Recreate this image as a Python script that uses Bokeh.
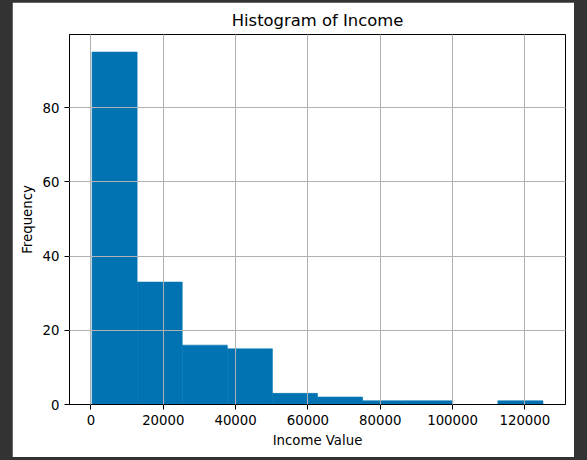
from bokeh.plotting import figure
from bokeh.models import Range1d, FixedTicker, ColumnDataSource, Column
from bokeh.embed import file_html
from bokeh.resources import INLINE

# Histogram data (bin edges and counts)
bin_edges = [300, 12770, 25240, 37710, 50180, 62650, 75120, 87590, 100060, 112530, 125000]
counts = [95, 33, 16, 15, 3, 2, 1, 1, 0, 1]
x_ticks = [0, 20000, 40000, 60000, 80000, 100000, 120000]
y_ticks = [0, 20, 40, 60, 80]

src = ColumnDataSource(dict(left=bin_edges[:-1], right=bin_edges[1:],
                            top=counts, bottom=[0] * len(counts)))

span = bin_edges[-1] - bin_edges[0]
xr = Range1d(bin_edges[0] - 0.05 * span, bin_edges[-1] + 0.05 * span)
yr = Range1d(0, max(counts) * 1.05)

p = figure(width=562, height=455, x_range=xr, y_range=yr,
           output_backend="svg", toolbar_location=None,
           title="Histogram of Income")
p.min_border_left = 57
p.min_border_right = 9
p.min_border_top = 32
p.min_border_bottom = 53

BAR = "#0173b2"
p.quad(left="left", right="right", top="top", bottom="bottom", source=src,
       fill_color=BAR, line_color=BAR, line_width=0.6)

FONT = "DejaVu Sans"
p.title.align = "center"
p.title.text_font = FONT
p.title.text_font_size = "16.4px"
p.title.text_font_style = "normal"
p.title.text_color = "black"

p.outline_line_color = "black"
p.outline_line_width = 1
p.outline_line_alpha = 1

for ax in (p.xaxis[0], p.yaxis[0]):
    ax.major_label_text_font = FONT
    ax.major_label_text_font_size = "13.3px"
    ax.major_label_text_color = "black"
    ax.axis_label_text_font = FONT
    ax.axis_label_text_font_size = "13.3px"
    ax.axis_label_text_font_style = "normal"
    ax.axis_label_text_color = "black"
    ax.axis_line_color = "black"
    ax.major_tick_line_color = "black"
    ax.major_tick_out = 5
    ax.major_tick_in = 0
    ax.minor_tick_line_color = None
    ax.major_label_standoff = 5

p.xaxis[0].ticker = FixedTicker(ticks=x_ticks)
p.yaxis[0].ticker = FixedTicker(ticks=y_ticks)
p.xaxis[0].axis_label = "Income Value"
p.yaxis[0].axis_label = "Frequency"
p.xaxis[0].axis_label_standoff = 5
p.yaxis[0].axis_label_standoff = 5
p.xaxis[0].formatter.use_scientific = False
p.yaxis[0].formatter.use_scientific = False

for g in (p.xgrid[0], p.ygrid[0]):
    g.grid_line_color = "#b0b0b0"
    g.grid_line_width = 1
    g.level = "annotation"
p.xgrid[0].ticker = FixedTicker(ticks=x_ticks)
p.ygrid[0].ticker = FixedTicker(ticks=y_ticks)

p.background_fill_color = "white"
p.border_fill_color = "white"

root = Column(p, styles={"background-color": "#333333",
                         "padding": "2px 13px 3px 12px"})

html = file_html(root, INLINE)
open("out.html", "w").write(html)
